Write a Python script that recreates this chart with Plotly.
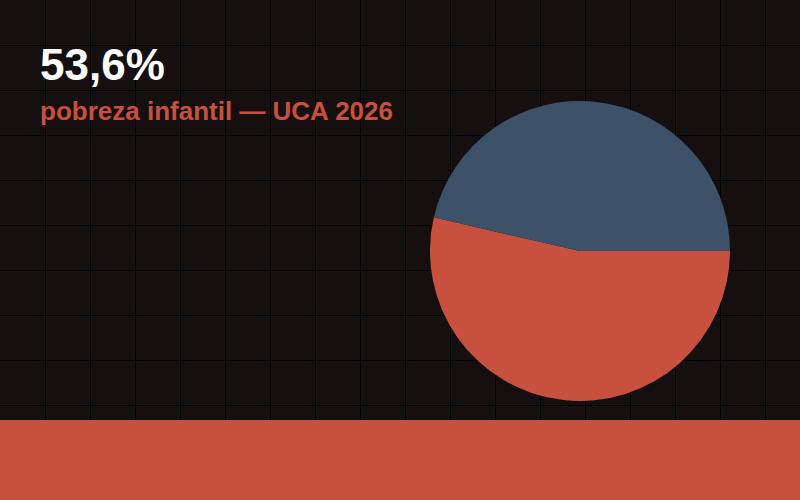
import plotly.graph_objects as go

labels = ["Pobres", "No pobres"]
values = [53.6, 46.4]
colors = ["#c8503e", "#3d5268"]
headline = "53,6%"
subtitle = "pobreza infantil — UCA 2026"

BG = "#160f0f"
RED = "#c8503e"

fig = go.Figure()
fig.add_trace(go.Scatter(x=[], y=[], hoverinfo="skip", showlegend=False))
fig.add_trace(go.Pie(
    labels=labels, values=values, sort=False, direction="clockwise", rotation=90,
    marker=dict(colors=colors, line=dict(width=0)),
    textinfo="none", hoverinfo="label+percent", showlegend=False,
    domain=dict(x=[430/800, 730/800], y=[99/500, 399/500]),
))

fig.update_layout(
    width=800, height=500,
    margin=dict(l=0, r=0, t=0, b=0),
    paper_bgcolor=BG, plot_bgcolor=BG,
    xaxis=dict(range=[0, 800], dtick=45, tick0=0, showgrid=True, gridcolor="#000000",
               gridwidth=1, zeroline=False, showticklabels=False, domain=[0, 1], fixedrange=True),
    yaxis=dict(range=[500, 0], dtick=45, tick0=0, showgrid=True, gridcolor="#000000",
               gridwidth=1, zeroline=False, showticklabels=False, domain=[0, 1], fixedrange=True),
    shapes=[dict(type="rect", xref="paper", yref="paper", x0=0, x1=1, y0=0, y1=80/500,
                 fillcolor=RED, line=dict(width=0), layer="above")],
    annotations=[
        dict(text=f"<b>{headline}</b>", xref="paper", yref="paper", x=38/800, y=1-38/500,
             xanchor="left", yanchor="top", showarrow=False,
             font=dict(family="Liberation Sans, Arial, sans-serif", size=44, color="#ffffff")),
        dict(text=f"<b>{subtitle}</b>", xref="paper", yref="paper", x=38/800, y=1-94/500,
             xanchor="left", yanchor="top", showarrow=False,
             font=dict(family="Liberation Sans, Arial, sans-serif", size=26, color=RED)),
    ],
)
fig.write_html("out.html", config={"displayModeBar": False},
               post_script="document.body.style.margin='0';")
